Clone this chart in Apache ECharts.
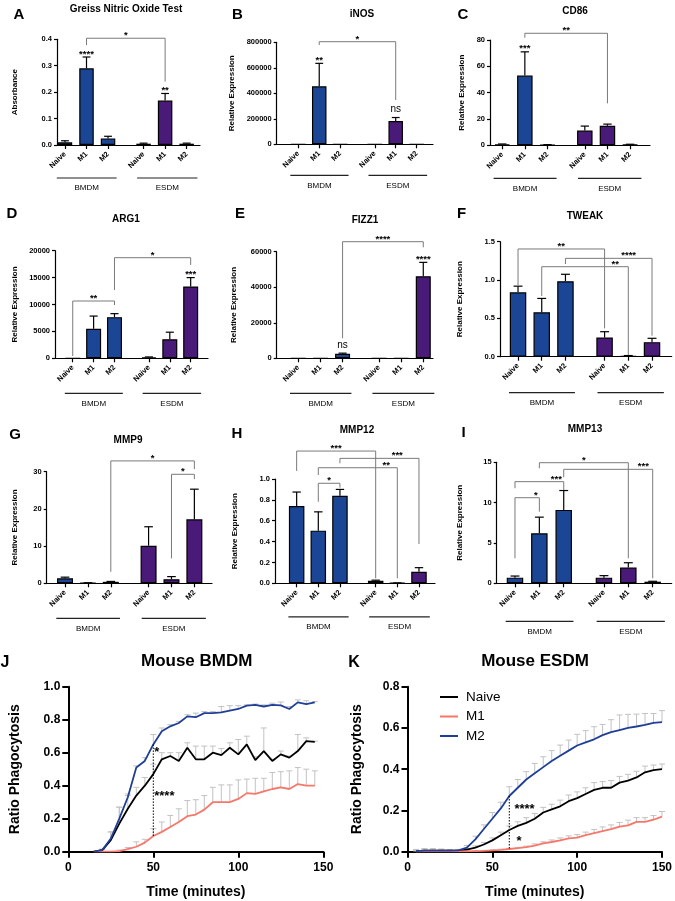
<!DOCTYPE html>
<html><head><meta charset="utf-8">
<script src="https://cdn.jsdelivr.net/npm/echarts@6/dist/echarts.min.js"></script>
<style>html,body{margin:0;padding:0;background:#fff}#c{width:675px;height:901px}</style>
</head><body><div id="c"></div>
<script>
const FONT = '"Liberation Sans", Arial, Helvetica, sans-serif';
const conditions = ['Naive', 'M1', 'M2'];
const groupNames = ['BMDM', 'ESDM'];

// ---- A: Greiss Nitric Oxide Test
const greissBMDM = [0.01, 0.29, 0.025];
const greissBMDMSem = [0.006, 0.043, 0.008];
const greissESDM = [0.005, 0.168, 0.005];
const greissESDMSem = [0.002, 0.027, 0.002];
const greissYTicks = [0, 0.1, 0.2, 0.3, 0.4];
const greissBrackets = [[1, 4, 0.404, 0.378, 0.24]];
const greissBracketLabels = ['*'];
const greissBarLabels = ['', '****', '', '', '**', ''];

// ---- B: iNOS
const inosBMDM = [0, 455000, 0];
const inosBMDMSem = [0, 180000, 0];
const inosESDM = [0, 182000, 0];
const inosESDMSem = [0, 28000, 0];
const inosYTicks = [0, 200000, 400000, 600000, 800000];
const inosBrackets = [[1, 4, 804700, 778800, 347400]];
const inosBracketLabels = ['*'];
const inosBarLabels = ['', '**', '', '', 'ns', ''];

// ---- C: CD86
const cd86BMDM = [0.8, 53, 0.4];
const cd86BMDMSem = [0.2, 18, 0.1];
const cd86ESDM = [11.2, 14.8, 0.6];
const cd86ESDMSem = [3.4, 1.3, 0.2];
const cd86YTicks = [0, 20, 40, 60, 80];
const cd86Brackets = [[1, 4, 85.1, 81.7, 31.9]];
const cd86BracketLabels = ['**'];
const cd86BarLabels = ['', '***', '', '', '', ''];

// ---- D: ARG1
const arg1BMDM = [10, 5500, 7650];
const arg1BMDMSem = [0, 2350, 650];
const arg1ESDM = [200, 3550, 13350];
const arg1ESDMSem = [50, 1300, 1650];
const arg1YTicks = [0, 5000, 10000, 15000, 20000];
const arg1Brackets = [[0, 2, 10650, 430, 9900], [2, 5, 18700, 12700, 17350]];
const arg1BracketLabels = ['**', '*'];
const arg1BarLabels = ['', '', '', '', '', '***'];

// ---- E: FIZZ1
const fizz1BMDM = [30, 30, 2600];
const fizz1BMDMSem = [0, 0, 300];
const fizz1ESDM = [30, 30, 46200];
const fizz1ESDMSem = [0, 0, 7800];
const fizz1YTicks = [0, 20000, 40000, 60000];
const fizz1Brackets = [[2, 5, 65630, 11260, 62480]];
const fizz1BracketLabels = ['****'];
const fizz1BarLabels = ['', '', 'ns', '', '', '****'];

// ---- F: TWEAK
const tweakBMDM = [0.84, 0.58, 0.985];
const tweakBMDMSem = [0.08, 0.18, 0.09];
const tweakESDM = [0.25, 0.01, 0.19];
const tweakESDMSem = [0.076, 0.005, 0.05];
const tweakYTicks = [0, 0.5, 1.0, 1.5];
const tweakBrackets = [[0, 3, 1.405, 0.935, 0.37], [2, 5, 1.283, 1.209, 0.274], [1, 4, 1.174, 0.792, 0.022]];
const tweakBracketLabels = ['**', '****', '**'];
const tweakBarLabels = ['', '', '', '', '', ''];

// ---- G: MMP9
const mmp9BMDM = [1.35, 0.1, 0.4];
const mmp9BMDMSem = [0.3, 0.05, 0.1];
const mmp9ESDM = [10.1, 1.1, 17.2];
const mmp9ESDMSem = [5.1, 0.7, 8.1];
const mmp9YTicks = [0, 10, 20, 30];
const mmp9Brackets = [[2, 5, 32.9, 3.1, 30.7], [4, 5, 29.3, 6.7, 28.0]];
const mmp9BracketLabels = ['*', '*'];
const mmp9BarLabels = ['', '', '', '', '', ''];

// ---- H: MMP12
const mmp12BMDM = [0.74, 0.505, 0.84];
const mmp12BMDMSem = [0.135, 0.18, 0.06];
const mmp12ESDM = [0.025, 0.003, 0.11];
const mmp12ESDMSem = [0.005, 0.001, 0.04];
const mmp12YTicks = [0, 0.2, 0.4, 0.6, 0.8, 1.0];
const mmp12Brackets = [[0, 3, 1.268, 1.077, 0.048], [2, 5, 1.198, 1.151, 0.377], [1, 4, 1.108, 1.038, 0.048], [1, 2, 0.959, 0.782, 0.917]];
const mmp12BracketLabels = ['***', '***', '**', '*'];
const mmp12BarLabels = ['', '', '', '', '', ''];

// ---- I: MMP13
const mmp13BMDM = [0.7, 6.2, 9.1];
const mmp13BMDMSem = [0.2, 2.0, 2.4];
const mmp13ESDM = [0.7, 1.95, 0.2];
const mmp13ESDMSem = [0.25, 0.6, 0.05];
const mmp13YTicks = [0, 5, 10, 15];
const mmp13Brackets = [[1, 4, 14.95, 14.26, 3.1], [2, 5, 14.13, 13.14, 0.62], [0, 2, 12.6, 11.78, 11.57], [0, 1, 10.61, 3.1, 8.88]];
const mmp13BracketLabels = ['*', '***', '***', '*'];
const mmp13BarLabels = ['', '', '', '', '', ''];

// ---- J: Mouse BMDM phagocytosis
const seriesNames = ['Naive', 'M1', 'M2'];
const jTimes = [15,20,25,30,35,40,45,50,55,60,65,70,75,80,85,90,95,100,105,110,115,120,125,130,135,140,145];
const jNaive = [0,0.01,0.07,0.17,0.26,0.34,0.40,0.47,0.56,0.58,0.55,0.63,0.56,0.56,0.60,0.585,0.63,0.59,0.65,0.555,0.61,0.55,0.59,0.57,0.61,0.67,0.665];
const jNaiveSem = [0,0.005,0.05,0.10,0.09,0.05,0.05,0.06,0.04,0.02,0.05,0.03,0.08,0.08,0.04,0.04,0.03,0.09,0.05,0.02,0.14,0.01,0.02,0.01,0.10,0.02,0.005];
const jM1 = [0,0,0,0.003,0.015,0.03,0.055,0.095,0.12,0.15,0.18,0.215,0.225,0.255,0.30,0.30,0.30,0.32,0.355,0.35,0.365,0.38,0.39,0.38,0.41,0.40,0.40];
const jM1Sem = [0,0,0,0.007,0.01,0.03,0.02,0.045,0.06,0.07,0.08,0.095,0.09,0.085,0.09,0.105,0.105,0.115,0.085,0.095,0.08,0.10,0.095,0.11,0.10,0.10,0.09];
const jM2 = [0,0.01,0.08,0.20,0.33,0.51,0.55,0.65,0.73,0.76,0.78,0.82,0.815,0.84,0.84,0.845,0.855,0.865,0.885,0.89,0.88,0.89,0.887,0.865,0.905,0.895,0.905];
const jM2Sem = [0,0.005,0.04,0.07,0.01,0.01,0.02,0.06,0.02,0.01,0.01,0.01,0.025,0.01,0.01,0.035,0.03,0.02,0.005,0.005,0.01,0.01,0.02,0.015,0.015,0.02,0.005];
const jXTicks = [0, 50, 100, 150];
const jYTicks = [0, 0.2, 0.4, 0.6, 0.8, 1.0];
const jDropTime = 50, jDropTop = 0.65, jDropBottom = 0.095;
const jNoteTimes = [52, 56.5];
const jNoteValues = [0.62, 0.358];
const jNoteText = ['*', '****'];

// ---- K: Mouse ESDM phagocytosis
const kTimes = [5,10,15,20,25,30,35,40,45,50,55,60,65,70,75,80,85,90,95,100,105,110,115,120,125,130,135,140,145,150];
const kNaive = [0.003,0.005,0.005,0.005,0.005,0.005,0.01,0.02,0.035,0.055,0.08,0.105,0.125,0.14,0.16,0.19,0.205,0.22,0.245,0.26,0.28,0.30,0.31,0.31,0.335,0.345,0.36,0.385,0.395,0.40];
const kNaiveSem = [0.008,0.01,0.01,0.008,0.005,0.005,0.005,0.008,0.01,0.012,0.015,0.02,0.02,0.025,0.025,0.025,0.025,0.03,0.03,0.03,0.03,0.035,0.03,0.035,0.03,0.03,0.03,0.03,0.025,0.025];
const kM1 = [0.001,0.002,0.002,0.002,0.002,0.002,0.002,0.003,0.004,0.006,0.009,0.013,0.017,0.022,0.03,0.04,0.047,0.055,0.065,0.068,0.08,0.09,0.10,0.11,0.122,0.128,0.145,0.145,0.155,0.17];
const kM1Sem = [0.003,0.004,0.004,0.003,0.002,0.002,0.002,0.002,0.002,0.003,0.003,0.003,0.004,0.005,0.008,0.008,0.01,0.012,0.012,0.015,0.015,0.018,0.02,0.02,0.02,0.025,0.02,0.02,0.02,0.025];
const kM2 = [0.003,0.005,0.005,0.005,0.005,0.006,0.02,0.06,0.11,0.16,0.21,0.27,0.31,0.35,0.38,0.41,0.44,0.465,0.49,0.515,0.53,0.545,0.565,0.58,0.59,0.60,0.607,0.615,0.625,0.628];
const kM2Sem = [0.005,0.008,0.008,0.005,0.005,0.005,0.01,0.015,0.02,0.03,0.03,0.045,0.04,0.038,0.048,0.05,0.05,0.052,0.051,0.054,0.057,0.061,0.052,0.06,0.073,0.066,0.06,0.055,0.045,0.056];
const kXTicks = [0, 50, 100, 150];
const kYTicks = [0, 0.2, 0.4, 0.6, 0.8];
const kDropTime = 60, kDropTop = 0.27, kDropBottom = 0.013;
const kNoteTimes = [69, 65.8];
const kNoteValues = [0.222, 0.065];
const kNoteText = ['****', '*'];

// ---------------- layout / styling ----------------
const BLUE = '#1b4595', PURPLE = '#4a1a78';
const LINE_COLORS = ['#000000', '#f7776a', '#1f3f97'];
const GAP = 0.65;
const pos = i => (i < 3 ? i : i + GAP);
const barPositions = [0, 1, 2, 3, 4, 5].map(pos);

const panelData = [
  {bmdm: greissBMDM, bmdmSem: greissBMDMSem, esdm: greissESDM, esdmSem: greissESDMSem, yTicks: greissYTicks, brackets: greissBrackets, bracketLabels: greissBracketLabels, barLabels: greissBarLabels},
  {bmdm: inosBMDM, bmdmSem: inosBMDMSem, esdm: inosESDM, esdmSem: inosESDMSem, yTicks: inosYTicks, brackets: inosBrackets, bracketLabels: inosBracketLabels, barLabels: inosBarLabels},
  {bmdm: cd86BMDM, bmdmSem: cd86BMDMSem, esdm: cd86ESDM, esdmSem: cd86ESDMSem, yTicks: cd86YTicks, brackets: cd86Brackets, bracketLabels: cd86BracketLabels, barLabels: cd86BarLabels},
  {bmdm: arg1BMDM, bmdmSem: arg1BMDMSem, esdm: arg1ESDM, esdmSem: arg1ESDMSem, yTicks: arg1YTicks, brackets: arg1Brackets, bracketLabels: arg1BracketLabels, barLabels: arg1BarLabels},
  {bmdm: fizz1BMDM, bmdmSem: fizz1BMDMSem, esdm: fizz1ESDM, esdmSem: fizz1ESDMSem, yTicks: fizz1YTicks, brackets: fizz1Brackets, bracketLabels: fizz1BracketLabels, barLabels: fizz1BarLabels},
  {bmdm: tweakBMDM, bmdmSem: tweakBMDMSem, esdm: tweakESDM, esdmSem: tweakESDMSem, yTicks: tweakYTicks, brackets: tweakBrackets, bracketLabels: tweakBracketLabels, barLabels: tweakBarLabels},
  {bmdm: mmp9BMDM, bmdmSem: mmp9BMDMSem, esdm: mmp9ESDM, esdmSem: mmp9ESDMSem, yTicks: mmp9YTicks, brackets: mmp9Brackets, bracketLabels: mmp9BracketLabels, barLabels: mmp9BarLabels},
  {bmdm: mmp12BMDM, bmdmSem: mmp12BMDMSem, esdm: mmp12ESDM, esdmSem: mmp12ESDMSem, yTicks: mmp12YTicks, brackets: mmp12Brackets, bracketLabels: mmp12BracketLabels, barLabels: mmp12BarLabels},
  {bmdm: mmp13BMDM, bmdmSem: mmp13BMDMSem, esdm: mmp13ESDM, esdmSem: mmp13ESDMSem, yTicks: mmp13YTicks, brackets: mmp13Brackets, bracketLabels: mmp13BracketLabels, barLabels: mmp13BarLabels}
];

const panelLayout = [
  {letter:'A', lx:19, ly:15, title:'Greiss Nitric Oxide Test', tx:126, ty:9, yName:'Absorbance', left:57, top:39.3, width:143, height:105.7, xMin:-0.37, xMax:6.27, bw:14.5, nameGap:38, dec:1, groupDy:33, labelAt:[0.5]},
  {letter:'B', lx:237.5, ly:15, title:'iNOS', tx:362, ty:14, yName:'Relative Expression', left:276.7, top:42.3, width:156.3, height:102, xMin:-1.03, xMax:6.43, bw:14.5, nameGap:40.5, dec:0, groupDy:31, labelAt:[0.5]},
  {letter:'C', lx:463, ly:15, title:'CD86', tx:575, ty:11, yName:'Relative Expression', left:490, top:40, width:160, height:105.3, xMin:-0.54, xMax:6.53, bw:15.5, nameGap:24.5, dec:0, groupDy:33, labelAt:[0.5]},
  {letter:'D', lx:12, ly:214, title:'ARG1', tx:126, ty:219, yName:'Relative Expression', left:55, top:250.7, width:153, height:107.6, xMin:-0.85, xMax:6.48, bw:15, nameGap:36, dec:0, groupDy:35, labelAt:[0.5, 0.5]},
  {letter:'E', lx:240, ly:214, title:'FIZZ1', tx:365, ty:220, yName:'Relative Expression', left:276.7, top:251.7, width:156.3, height:106.6, xMin:-0.98, xMax:6.09, bw:15, nameGap:38.5, dec:0, groupDy:35, labelAt:[0.5]},
  {letter:'F', lx:461.7, ly:214, title:'TWEAK', tx:585, ty:216, yName:'Relative Expression', left:500, top:241.7, width:171.7, height:115, xMin:-0.76, xMax:6.48, bw:16.5, nameGap:36, dec:1, groupDy:36, labelAt:[0.5, 0.73, 0.85]},
  {letter:'G', lx:15, ly:435, title:'MMP9', tx:128, ty:440, yName:'Relative Expression', left:46.7, top:471.7, width:165.3, height:111.6, xMin:-0.8, xMax:6.42, bw:16, nameGap:27.5, dec:0, groupDy:35, labelAt:[0.5, 0.5]},
  {letter:'H', lx:237, ly:434, title:'MMP12', tx:357, ty:430, yName:'Relative Expression', left:275, top:479, width:160, height:104.3, xMin:-1.0, xMax:6.39, bw:15.5, nameGap:36, dec:1, groupDy:33.5, labelAt:[0.5, 0.725, 0.86, 0.5]},
  {letter:'I', lx:463.5, ly:433, title:'MMP13', tx:585, ty:429, yName:'Relative Expression', left:496.7, top:462.3, width:175, height:121, xMin:-0.75, xMax:6.43, bw:16.5, nameGap:32.5, dec:0, groupDy:38, labelAt:[0.5, 0.895, 0.85, 0.86]}
];

const grids = [], xAxes = [], yAxes = [], series = [], graphics = [];

function textEl(x, y, text, font, align) {
  return {type:'text', x:x, y:y, style:{text:text, font:font, fill:'#000', textAlign:align || 'center', textVerticalAlign:'middle'}};
}

panelLayout.forEach((L, k) => {
  const D = panelData[k];
  const values = D.bmdm.concat(D.esdm);
  const sems = D.bmdmSem.concat(D.esdmSem);
  grids.push({left:L.left, top:L.top, width:L.width, height:L.height, containLabel:false});
  xAxes.push({
    gridIndex:k, type:'value', min:L.xMin, max:L.xMax,
    axisLine:{show:true, onZero:false, lineStyle:{color:'#000', width:1.2}},
    axisTick:{show:true, customValues:barPositions, length:4, lineStyle:{color:'#000', width:1.2}},
    axisLabel:{show:true, customValues:barPositions, rotate:45, margin:8, fontSize:7.5, fontWeight:'bold', fontFamily:FONT, color:'#000',
      formatter:function(v){ for (let i = 0; i < 6; i++) { if (Math.abs(barPositions[i] - v) < 1e-6) return conditions[i % 3]; } return ''; }},
    splitLine:{show:false}
  });
  const yt = D.yTicks;
  yAxes.push({
    gridIndex:k, type:'value', min:yt[0], max:yt[yt.length - 1], interval:yt[1] - yt[0],
    axisLine:{show:true, onZero:false, lineStyle:{color:'#000', width:1.2}},
    axisTick:{show:true, length:3, lineStyle:{color:'#000', width:1.2}},
    axisLabel:{fontSize:7.5, fontWeight:'bold', fontFamily:FONT, color:'#000', margin:5, formatter:function(v){ return v.toFixed(L.dec); }},
    splitLine:{show:false},
    name:L.yName, nameLocation:'middle', nameRotate:90, nameGap:L.nameGap,
    nameTextStyle:{fontSize:8, fontWeight:'bold', fontFamily:FONT, color:'#000'}
  });
  // bars
  series.push({
    type:'bar', xAxisIndex:k, yAxisIndex:k, barWidth:L.bw, z:2,
    itemStyle:{borderColor:'#000', borderWidth:1.2},
    data: values.map((v, i) => ({value:[pos(i), v], itemStyle:{color: i < 3 ? BLUE : PURPLE}}))
  });
  // error bars (upper)
  const cap = L.bw * 0.27;
  series.push({
    type:'custom', xAxisIndex:k, yAxisIndex:k, z:3, clip:false,
    data: values.map((v, i) => [pos(i), v, sems[i]]),
    renderItem: function(params, api){
      const e = api.value(2);
      if (!(e > 0)) return null;
      const a = api.coord([api.value(0), api.value(1)]);
      const b = api.coord([api.value(0), api.value(1) + e]);
      return {type:'group', children:[
        {type:'line', shape:{x1:a[0], y1:a[1], x2:b[0], y2:b[1]}, style:{stroke:'#000', lineWidth:1.2}},
        {type:'line', shape:{x1:b[0] - cap, y1:b[1], x2:b[0] + cap, y2:b[1]}, style:{stroke:'#000', lineWidth:1.2}}
      ]};
    }
  });
  // labels above bars
  const starIdx = [];
  D.barLabels.forEach((s, i) => { if (s) starIdx.push(i); });
  if (starIdx.length) {
    series.push({
      type:'custom', xAxisIndex:k, yAxisIndex:k, z:4, clip:false,
      data: starIdx.map(i => [pos(i), values[i] + sems[i]]),
      renderItem: function(params, api){
        const txt = D.barLabels[starIdx[params.dataIndex]];
        const p = api.coord([api.value(0), api.value(1)]);
        const isNs = txt === 'ns';
        return {type:'text', x:p[0], y:p[1] - (isNs ? 8 : 3), style:{text:txt, font:(isNs ? '' : 'bold ') + (isNs ? '10px ' : '9.5px ') + FONT, fill:'#000', textAlign:'center', textVerticalAlign:'middle'}};
      }
    });
  }
  // significance brackets
  series.push({
    type:'custom', xAxisIndex:k, yAxisIndex:k, z:4, clip:false,
    data: D.brackets.map(b => [pos(b[0]), pos(b[1]), b[2], b[3], b[4]]),
    renderItem: function(params, api){
      const x1 = api.value(0), x2 = api.value(1), lv = api.value(2);
      const a = api.coord([x1, lv]), b = api.coord([x2, lv]);
      const a2 = api.coord([x1, api.value(3)]), b2 = api.coord([x2, api.value(4)]);
      const f = L.labelAt[params.dataIndex];
      const tx = a[0] + (b[0] - a[0]) * f;
      return {type:'group', children:[
        {type:'polyline', shape:{points:[[a2[0], a2[1]], [a[0], a[1]], [b[0], b[1]], [b2[0], b2[1]]]}, style:{stroke:'#7a7a7a', lineWidth:1, fill:null}},
        {type:'text', x:tx, y:a[1] - 2.5, style:{text:D.bracketLabels[params.dataIndex], font:'bold 9.5px ' + FONT, fill:'#000', textAlign:'center', textVerticalAlign:'middle'}}
      ]};
    }
  });
  // group underlines
  series.push({
    type:'custom', xAxisIndex:k, yAxisIndex:k, z:4, clip:false,
    data: [[pos(0) - 0.38, pos(2) + 0.4], [pos(3) - 0.3, pos(5) + 0.5]],
    renderItem: function(params, api){
      const a = api.coord([api.value(0), 0]), b = api.coord([api.value(1), 0]);
      const y = a[1] + L.groupDy;
      return {type:'group', children:[
        {type:'line', shape:{x1:a[0], y1:y, x2:b[0], y2:y}, style:{stroke:'#222', lineWidth:1.2}},
        {type:'text', x:(a[0] + b[0]) / 2, y:y + 10, style:{text:groupNames[params.dataIndex], font:'8px ' + FONT, fill:'#000', textAlign:'center', textVerticalAlign:'middle'}}
      ]};
    }
  });
  graphics.push(textEl(L.lx, L.ly, L.letter, 'bold 15px ' + FONT));
  graphics.push(textEl(L.tx, L.ty, L.title, 'bold 10px ' + FONT));
});

// ---------------- line panels ----------------
const linePanels = [
  {letter:'J', lx:5, ly:663, title:'Mouse BMDM', tx:196.7, ty:661, left:68.3, top:686.7, width:255, height:165, nameGap:46,
   times:jTimes, vals:[jNaive, jM1, jM2], sems:[jNaiveSem, jM1Sem, jM2Sem], xTicks:jXTicks, yTicks:jYTicks,
   drop:[jDropTime, jDropTop, jDropBottom], noteT:jNoteTimes, noteV:jNoteValues, noteText:jNoteText},
  {letter:'K', lx:354, ly:663, title:'Mouse ESDM', tx:535, ty:661, left:407.5, top:686.7, width:255.8, height:165, nameGap:43,
   times:kTimes, vals:[kNaive, kM1, kM2], sems:[kNaiveSem, kM1Sem, kM2Sem], xTicks:kXTicks, yTicks:kYTicks,
   drop:[kDropTime, kDropTop, kDropBottom], noteT:kNoteTimes, noteV:kNoteValues, noteText:kNoteText}
];

linePanels.forEach((P, j) => {
  const k = grids.length;
  grids.push({left:P.left, top:P.top, width:P.width, height:P.height, containLabel:false});
  xAxes.push({
    gridIndex:k, type:'value', min:P.xTicks[0], max:P.xTicks[P.xTicks.length - 1], interval:P.xTicks[1] - P.xTicks[0],
    axisLine:{show:true, onZero:false, lineStyle:{color:'#000', width:2}},
    axisTick:{show:true, length:6, lineStyle:{color:'#000', width:2}},
    axisLabel:{fontSize:12, fontWeight:'bold', fontFamily:FONT, color:'#000', margin:10},
    splitLine:{show:false},
    name:'Time (minutes)', nameLocation:'middle', nameGap:33,
    nameTextStyle:{fontSize:14, fontWeight:'bold', fontFamily:FONT, color:'#000'}
  });
  const yt = P.yTicks;
  yAxes.push({
    gridIndex:k, type:'value', min:yt[0], max:yt[yt.length - 1], interval:yt[1] - yt[0],
    axisLine:{show:true, onZero:false, lineStyle:{color:'#000', width:2}},
    axisTick:{show:true, length:6, lineStyle:{color:'#000', width:2}},
    axisLabel:{fontSize:12, fontWeight:'bold', fontFamily:FONT, color:'#000', margin:8, formatter:function(v){ return v.toFixed(1); }},
    splitLine:{show:false},
    name:'Ratio Phagocytosis', nameLocation:'middle', nameRotate:90, nameGap:P.nameGap,
    nameTextStyle:{fontSize:14, fontWeight:'bold', fontFamily:FONT, color:'#000'}
  });
  // error bars
  P.vals.forEach((vals, s) => {
    series.push({
      type:'custom', xAxisIndex:k, yAxisIndex:k, z:1, clip:false,
      data: P.times.map((t, i) => [t, vals[i], P.sems[s][i]]),
      renderItem: function(params, api){
        const e = api.value(2);
        if (!(e > 0)) return null;
        const a = api.coord([api.value(0), api.value(1)]);
        const b = api.coord([api.value(0), api.value(1) + e]);
        return {type:'group', children:[
          {type:'line', shape:{x1:a[0], y1:a[1], x2:b[0], y2:b[1]}, style:{stroke:'#c2c2c2', lineWidth:1}},
          {type:'line', shape:{x1:b[0] - 3, y1:b[1], x2:b[0] + 3, y2:b[1]}, style:{stroke:'#c2c2c2', lineWidth:1}}
        ]};
      }
    });
  });
  // lines
  P.vals.forEach((vals, s) => {
    series.push({
      type:'line', name:seriesNames[s], xAxisIndex:k, yAxisIndex:k, z:3,
      showSymbol:false, symbol:'none', color:LINE_COLORS[s],
      lineStyle:{color:LINE_COLORS[s], width:1.8},
      data: P.times.map((t, i) => [t, vals[i]])
    });
  });
  // dotted drop line
  series.push({
    type:'custom', xAxisIndex:k, yAxisIndex:k, z:4, clip:false,
    data: [P.drop],
    renderItem: function(params, api){
      const a = api.coord([api.value(0), api.value(1)]), b = api.coord([api.value(0), api.value(2)]);
      return {type:'line', shape:{x1:a[0], y1:a[1], x2:b[0], y2:b[1]}, style:{stroke:'#000', lineWidth:1, lineDash:[1.5, 1.5]}};
    }
  });
  // significance notes
  series.push({
    type:'custom', xAxisIndex:k, yAxisIndex:k, z:5, clip:false,
    data: P.noteT.map((t, i) => [t, P.noteV[i]]),
    renderItem: function(params, api){
      const p = api.coord([api.value(0), api.value(1)]);
      return {type:'text', x:p[0], y:p[1] + 3.5, style:{text:P.noteText[params.dataIndex], font:'bold 13px ' + FONT, fill:'#000', textAlign:'center', textVerticalAlign:'middle'}};
    }
  });
  graphics.push(textEl(P.lx, P.ly, P.letter, 'bold 16px ' + FONT));
  graphics.push(textEl(P.tx, P.ty, P.title, 'bold 17px ' + FONT));
});

const option = {
  animation:false,
  backgroundColor:'#ffffff',
  textStyle:{fontFamily:FONT},
  grid:grids, xAxis:xAxes, yAxis:yAxes, series:series,
  legend:{
    orient:'vertical', left:435, top:685, itemWidth:18, itemHeight:2, icon:'rect', itemGap:5.5,
    selectedMode:false, data:seriesNames,
    textStyle:{fontSize:13.5, color:'#000', fontFamily:FONT, padding:[0, 0, 0, 3]}
  },
  graphic:{elements:graphics}
};

const chart = echarts.init(document.getElementById('c'), null, {renderer:'canvas'});
chart.setOption(option);
</script>
</body></html>
